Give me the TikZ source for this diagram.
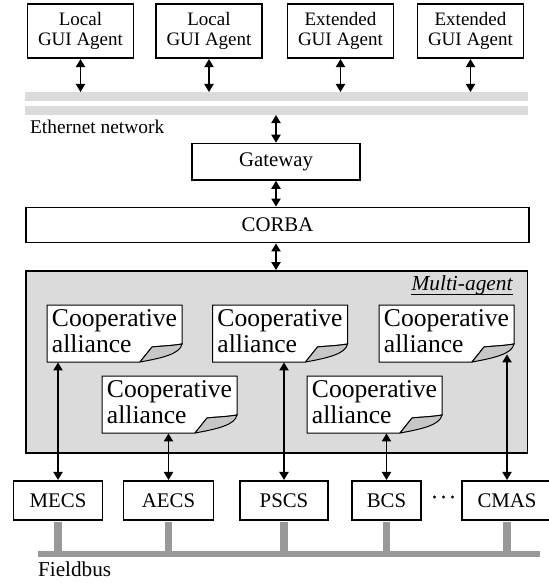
\documentclass[tikz,border=0pt]{standalone}
\usepackage{fontspec}
\setmainfont{Liberation Serif}
\usetikzlibrary{arrows.meta,calc,positioning}
\definecolor{netgray}{gray}{0.86}
\definecolor{busgray}{gray}{0.6}
\definecolor{foldgray}{gray}{0.78}

\begin{document}
\begin{tikzpicture}[x=0.5pt, y=-0.5pt,
  >={Triangle[length=4pt,width=4.6pt]},
  box/.style={draw, line width=0.8pt, fill=white, inner sep=0pt, font=\fontsize{10.4}{12}\selectfont},
  gui/.style={box, minimum width=53pt, minimum height=27pt, align=center, font=\fontsize{9.5}{10}\selectfont},
  dev/.style={box, minimum height=19.6pt},
  alliance/.style={inner sep=0pt, minimum width=67.5pt, minimum height=28.5pt, align=left, text depth=2.4pt, font=\fontsize{12.8}{10.5}\selectfont},
  link/.style={<->, line width=0.7pt},
  bus/.style={busgray, line width=3.75pt}]
\useasboundingbox (0,0) rectangle (548,583);
% --- GUI agents and ethernet ---
\node[gui] (lga1) at (80.5,31.3) {Local\\GUI Agent};
\node[gui] (lga2) at (209,31.3) {Local\\GUI Agent};
\node[gui] (ega1) at (340.5,31.3) {Extended\\GUI Agent};
\node[gui] (ega2) at (470.5,31.3) {Extended\\GUI Agent};
\fill[netgray] (24.5,92.3) rectangle (528,101);
\fill[netgray] (24.5,106) rectangle (528,115);
\coordinate (eth) at (0,92);
\coordinate (eth2) at (0,115);
\node[anchor=base west, inner sep=0pt, font=\fontsize{9.7}{12}\selectfont] (ethlabel) at (29.7,133.3) {Ethernet network};
\foreach \n in {lga1,lga2,ega1,ega2}
  \draw[link] (\n.south) -- (\n.south |- eth);
% --- gateway and CORBA ---
\node[box, minimum width=84.25pt, minimum height=18.25pt] (gw) at (276,161.75) {Gateway};
\draw[link] (gw.north |- eth2) -- (gw.north);
\node[box, minimum width=251.5pt, minimum height=17.6pt] (corba) at (277.5,225) {CORBA};
\draw[link] (gw.south) -- (gw.south |- corba.north);
% --- multi-agent ---
\node[draw, line width=0.9pt, fill=netgray, minimum width=250.75pt, minimum height=90.85pt, inner sep=0pt] (ma) at (276.75,361.85) {};
\draw[link] (gw.south |- corba.south) -- (gw.south |- ma.north);
\node[anchor=base east, inner sep=0pt, font=\fontsize{10.7}{12}\selectfont\itshape] (malabel) at (513,290.7) {Multi-agent};
\draw[line width=0.5pt] ([yshift=-1.7pt]malabel.base west) -- ([yshift=-1.7pt]malabel.base east);
\foreach \n/\x/\y in {ca1/47/305, ca2/212.5/305, ca3/379/305, ca4/102/376, ca5/307/376}{
  \begin{scope}[shift={(\x,\y)}]
    \filldraw[fill=white, line width=0.5pt] (0,0) -- (135,0) -- (135,39) .. controls (123,41) and (113,41) .. (105,42) -- (93,57) -- (0,57) -- cycle;
    \filldraw[fill=foldgray, line width=0.5pt] (93,57) -- (105,42) .. controls (113,41) and (123,41) .. (135,39) .. controls (133,49) and (115,53) .. (93,57);
    \node[alliance] (\n) at (67.5,28.5) {Cooperative\\alliance};
  \end{scope}}
% --- field devices ---
\coordinate (fb) at (0,554);
\draw[busgray, line width=3.3pt] (37.7,554) -- (540,554);
\node[dev, minimum width=44.5pt] (mecs) at (58,500.35) {MECS};
\node[dev, minimum width=45pt] (aecs) at (168.5,500.35) {AECS};
\node[dev, minimum width=44pt] (pscs) at (284,500.35) {PSCS};
\node[dev, minimum width=34.25pt] (bcs) at (386.5,500.35) {BCS};
\node[dev, minimum width=45pt] (cmas) at (507,500.35) {CMAS};
\foreach \n in {mecs,aecs,pscs,bcs,cmas}
  \draw[bus] ([yshift=-0.4pt]\n.south) -- (\n.south |- fb);
\foreach \x in {434.5,443.5,452.5}
  \fill (\x,497) circle (0.8pt);
\draw[link] (mecs.north) -- (mecs.north |- ca1.south);
\draw[link] (aecs.north) -- (aecs.north |- ca4.south);
\draw[link] (pscs.north) -- (pscs.north |- ca2.south);
\draw[link] (bcs.north) -- (bcs.north |- ca5.south);
\draw[link] (cmas.north) -- ([yshift=4pt]cmas.north |- ca3.south);
\node[anchor=base west, inner sep=0pt, font=\fontsize{10.6}{12}\selectfont] (fblabel) at (37.7,576.7) {Fieldbus};
\end{tikzpicture}
\end{document}
